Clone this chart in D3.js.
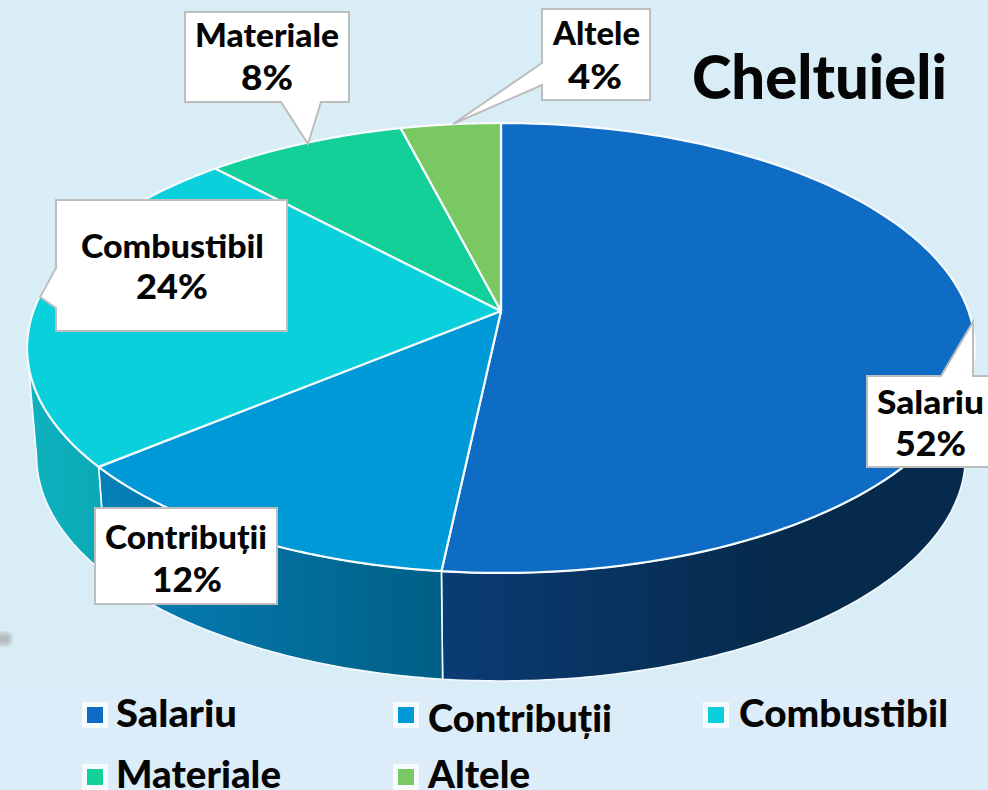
<!DOCTYPE html>
<html><head><meta charset="utf-8">
<script src="https://cdn.jsdelivr.net/npm/d3@7/dist/d3.min.js"></script>
<style>html,body{margin:0;padding:0;background:#d9edf7;overflow:hidden}svg{display:block}
text{font-family:Lato,"Open Sans",sans-serif;font-weight:900;fill:#050505}</style></head><body>
<script>
const categories=["Salariu","Contribuții","Combustibil","Materiale","Altele"];
const values=[51.7,12.3,24,8,4];
const topColors=["#0f6cc4","#0099d8","#0ad0dc","#12d098","#7ac862"];
const wallLeft=["#0a3c74","#0580b8","#0fb2be","#0e9c74","#5c9c4a"];
const wallRight=["#062a4c","#005f85","#0aa8b6","#0e9c74","#5c9c4a"];
const title="Cheltuieli";

const W=988,H=790;
const cx=501,cy=311,kP=-0.1644,A=218.9,B=467.5,depth=108,shrink=0.98;
const svg=d3.select("body").append("svg").attr("width",W).attr("height",H);
svg.append("rect").attr("width",W).attr("height",H).attr("fill","#d9edf7");
svg.append("rect").attr("y",690).attr("width",W).attr("height",100).attr("fill","#dcedf9");
const defs=svg.append("defs");
defs.append("filter").attr("id","b").append("feGaussianBlur").attr("stdDeviation",2.5);
svg.append("rect").attr("x",-6).attr("y",633).attr("width",17).attr("height",12).attr("fill","#b4babd").attr("filter","url(#b)");

const pie=d3.pie().sort(null)(values);
const project=t=>{const u=Math.sin(t),v=-Math.cos(t),w=1+kP*v;return [cx+B*u/w,cy+A*v/w];};
const lower=p=>[cx+shrink*(p[0]-cx),p[1]+depth];
const arcPts=(a,b)=>d3.range(0,121).map(i=>project(a+(b-a)*i/120));
const line=d3.line();

// the side wall only shows between the rim's rightmost and leftmost points
const grid=d3.range(0,1441).map(i=>i/1440*2*Math.PI);
const thetaRight=grid[d3.greatestIndex(grid,t=>project(t)[0])];
const thetaLeft=grid[d3.leastIndex(grid,t=>project(t)[0])];

pie.forEach((d,i)=>{
  const a=Math.max(d.startAngle,thetaRight),b=Math.min(d.endAngle,thetaLeft);
  if(b<=a) return;
  const rim=arcPts(a,b),bottom=rim.map(lower).reverse();
  const xs=rim.concat(bottom).map(p=>p[0]);
  const id="w"+i;
  const g=defs.append("linearGradient").attr("id",id).attr("gradientUnits","userSpaceOnUse")
    .attr("x1",d3.min(xs)).attr("x2",i===0?d3.min(xs)+330:d3.max(xs)).attr("y1",0).attr("y2",0);
  g.append("stop").attr("offset",0).attr("stop-color",wallLeft[i]);
  g.append("stop").attr("offset",1).attr("stop-color",wallRight[i]);
  svg.append("path").attr("d",line(rim.concat(bottom))+"Z").attr("fill",`url(#${id})`)
    .attr("stroke","#f4fafd").attr("stroke-width",1.6).attr("stroke-linejoin","round");
});

// top slices
pie.forEach((d,i)=>{
  const pts=[[cx,cy]].concat(arcPts(d.startAngle,d.endAngle));
  svg.append("path").attr("d",line(pts)+"Z").attr("fill",topColors[i])
    .attr("stroke","#f7fbfd").attr("stroke-width",2.2).attr("stroke-linejoin","round");
});

// callouts: outline of box with pointer
const callouts=[
 {i:0,shape:[[867,376],[941,376],[973,322],[973,376],[992,376],[992,467],[867,467]],name:[877,414,107],pct:[895,456,71]},
 {i:1,shape:[[95,508],[277,508],[277,604],[95,604]],name:[105,549,162],pct:[152,592,70]},
 {i:2,shape:[[56,200],[287,200],[287,331],[56,331],[56,308],[40,297],[56,268]],name:[81,258,183],pct:[136,299,72]},
 {i:3,shape:[[185,12],[349,12],[349,102],[321,102],[308,144],[281,102],[185,102]],name:[195,47,144],pct:[241,90,52]},
 {i:4,shape:[[542,9],[650,9],[650,100],[542,100],[542,85],[453,124],[542,63]],name:[553,45,87],pct:[568,89,54]}
];
const fit=(s,x,y,w,size)=>svg.append("text").attr("x",x).attr("y",y).attr("font-size",size)
  .attr("textLength",w).attr("lengthAdjust","spacingAndGlyphs").text(s);
callouts.forEach(c=>{
  svg.append("path").attr("d",line(c.shape)+"Z").attr("fill","#fff").attr("stroke","#bdbdbd").attr("stroke-width",2);
  fit(categories[c.i],c.name[0],c.name[1],c.name[2],32);
  fit(Math.round(values[c.i])+"%",c.pct[0],c.pct[1],c.pct[2],35);
});

fit(title,692,99,255,60);

// legend
const legendPos=[[87,707,116,727,121],[398,707,428,732,184],[708,707,739,727,209],[87,769,116,788,165],[398,769,428,788,102]];
legendPos.forEach((p,i)=>{
  svg.append("rect").attr("x",p[0]-5).attr("y",p[1]-5).attr("width",26).attr("height",26).attr("fill","#fff").attr("opacity",.75);
  svg.append("rect").attr("x",p[0]).attr("y",p[1]).attr("width",16).attr("height",16).attr("fill",topColors[i]);
  fit(categories[i],p[2],p[3],p[4],37);
});
</script></body></html>
